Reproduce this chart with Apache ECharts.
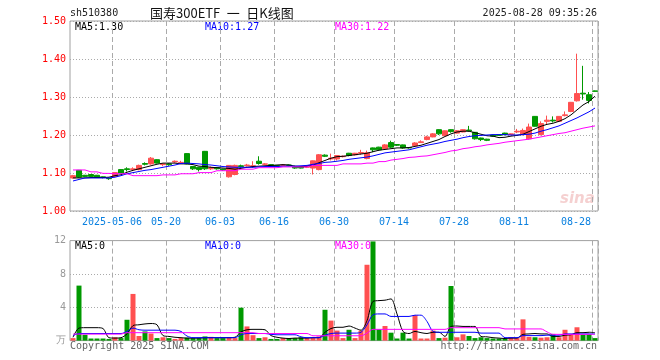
<!DOCTYPE html>
<html><head><meta charset="utf-8">
<script src="https://cdn.jsdelivr.net/npm/echarts@6/dist/echarts.min.js"></script>
<style>html,body{margin:0;padding:0;background:#fff}#c{width:660px;height:360px}</style>
</head><body><div id="c"></div>
<script>
const dates = ['2025-04-22','2025-04-23','2025-04-24','2025-04-25','2025-04-28','2025-04-29','2025-04-30','2025-05-06','2025-05-07','2025-05-08',
'2025-05-12','2025-05-13','2025-05-14','2025-05-15','2025-05-16','2025-05-19','2025-05-20','2025-05-21','2025-05-22','2025-05-23',
'2025-05-26','2025-05-27','2025-05-28','2025-05-29','2025-05-30','2025-06-03','2025-06-04','2025-06-05','2025-06-06','2025-06-09',
'2025-06-10','2025-06-11','2025-06-12','2025-06-13','2025-06-16','2025-06-17','2025-06-18','2025-06-19','2025-06-20','2025-06-23',
'2025-06-24','2025-06-25','2025-06-26','2025-06-27','2025-06-30','2025-07-01','2025-07-02','2025-07-03','2025-07-04','2025-07-07',
'2025-07-08','2025-07-09','2025-07-10','2025-07-11','2025-07-14','2025-07-15','2025-07-16','2025-07-17','2025-07-18','2025-07-21',
'2025-07-22','2025-07-23','2025-07-24','2025-07-25','2025-07-28','2025-07-29','2025-07-30','2025-07-31','2025-08-01','2025-08-04',
'2025-08-05','2025-08-06','2025-08-07','2025-08-08','2025-08-11','2025-08-12','2025-08-13','2025-08-14','2025-08-15','2025-08-18',
'2025-08-19','2025-08-20','2025-08-21','2025-08-22','2025-08-25','2025-08-26','2025-08-27','2025-08-28'];
const tickDates = ['2025-05-06','2025-05-20','2025-06-03','2025-06-16','2025-06-30','2025-07-14','2025-07-28','2025-08-11','2025-08-28'];
const openP = [1.087,1.107,1.094,1.096,1.094,1.090,1.086,1.091,1.109,1.111,
1.109,1.109,1.125,1.124,1.135,1.122,1.124,1.129,1.127,1.151,
1.117,1.115,1.157,1.111,1.114,1.110,1.090,1.096,1.119,1.119,
1.118,1.131,1.123,1.122,1.120,1.120,1.121,1.116,1.116,1.115,
1.113,1.109,1.147,1.137,1.137,1.143,1.152,1.148,1.152,1.138,
1.166,1.168,1.164,1.180,1.175,1.174,1.167,1.172,1.180,1.188,
1.195,1.214,1.198,1.214,1.205,1.208,1.213,1.207,1.192,1.189,
1.200,1.201,1.205,1.201,1.208,1.201,1.190,1.249,1.201,1.236,
1.239,1.236,1.251,1.262,1.290,1.310,1.306,1.316];
const closeP = [1.093,1.089,1.091,1.091,1.088,1.088,1.085,1.101,1.100,1.109,
1.111,1.120,1.123,1.139,1.126,1.124,1.122,1.131,1.128,1.124,
1.111,1.109,1.111,1.114,1.111,1.108,1.120,1.120,1.117,1.121,
1.119,1.125,1.124,1.118,1.118,1.121,1.120,1.113,1.113,1.119,
1.132,1.148,1.144,1.139,1.146,1.144,1.146,1.152,1.154,1.153,
1.161,1.161,1.174,1.168,1.173,1.166,1.166,1.179,1.182,1.195,
1.203,1.203,1.211,1.209,1.211,1.214,1.211,1.190,1.188,1.186,
1.197,1.199,1.201,1.203,1.210,1.212,1.221,1.223,1.230,1.239,
1.237,1.249,1.253,1.286,1.309,1.308,1.291,1.315];
const lowP = [1.085,1.087,1.089,1.090,1.087,1.086,1.082,1.089,1.099,1.104,
1.105,1.107,1.120,1.122,1.125,1.118,1.119,1.127,1.124,1.123,
1.108,1.104,1.108,1.108,1.109,1.106,1.088,1.094,1.114,1.117,
1.113,1.122,1.121,1.116,1.116,1.118,1.118,1.111,1.112,1.113,
1.096,1.107,1.142,1.133,1.133,1.141,1.144,1.146,1.148,1.136,
1.155,1.159,1.162,1.166,1.171,1.164,1.164,1.170,1.179,1.186,
1.194,1.200,1.197,1.206,1.204,1.207,1.209,1.188,1.184,1.184,
1.195,1.198,1.199,1.200,1.205,1.199,1.188,1.222,1.199,1.227,
1.233,1.234,1.249,1.260,1.288,1.293,1.283,1.314];
const highP = [1.095,1.108,1.095,1.097,1.095,1.091,1.088,1.102,1.110,1.115,
1.115,1.122,1.128,1.142,1.136,1.125,1.126,1.133,1.132,1.152,
1.118,1.116,1.158,1.117,1.115,1.111,1.121,1.122,1.122,1.124,
1.131,1.144,1.126,1.123,1.121,1.123,1.122,1.119,1.117,1.120,
1.133,1.150,1.149,1.151,1.147,1.146,1.153,1.153,1.161,1.159,
1.167,1.169,1.176,1.185,1.176,1.175,1.168,1.181,1.186,1.198,
1.205,1.215,1.212,1.215,1.213,1.215,1.224,1.208,1.193,1.190,
1.201,1.202,1.206,1.204,1.216,1.217,1.230,1.250,1.236,1.251,
1.249,1.250,1.262,1.287,1.414,1.382,1.313,1.317];
const ma5 = [1.087,1.087,1.087,1.088,1.088,1.088,1.089,1.093,1.0955,1.102,
1.107,1.111,1.115,1.119,1.123,1.126,1.126,1.126,1.124,1.124,
1.122,1.118,1.117,1.115,1.114,1.113,1.112,1.110,1.112,1.115,
1.117,1.118,1.119,1.120,1.121,1.122,1.121,1.118,1.117,1.118,
1.121,1.127,1.133,1.139,1.143,1.144,1.146,1.148,1.150,1.152,
1.156,1.160,1.162,1.164,1.166,1.166,1.167,1.170,1.173,1.178,
1.183,1.188,1.196,1.203,1.208,1.210,1.210,1.206,1.202,1.198,
1.197,1.193,1.194,1.197,1.199,1.202,1.209,1.216,1.223,1.228,
1.231,1.236,1.243,1.253,1.266,1.279,1.288,1.302];
const ma10 = [1.079,1.083,1.087,1.087,1.087,1.087,1.087,1.089,1.093,1.098,
1.101,1.104,1.107,1.109,1.112,1.115,1.118,1.121,1.125,1.126,
1.125,1.124,1.122,1.121,1.119,1.117,1.116,1.115,1.115,1.115,
1.115,1.116,1.117,1.117,1.117,1.118,1.118,1.118,1.119,1.120,
1.123,1.125,1.128,1.129,1.131,1.133,1.136,1.138,1.140,1.142,
1.145,1.149,1.153,1.155,1.157,1.159,1.161,1.165,1.169,1.173,
1.176,1.179,1.183,1.186,1.189,1.193,1.196,1.198,1.199,1.200,
1.201,1.201,1.201,1.200,1.200,1.201,1.202,1.205,1.210,1.214,
1.219,1.224,1.231,1.238,1.245,1.253,1.261,1.271];
const ma30 = [1.108,1.108,1.108,1.103,1.103,1.099,1.099,1.098,1.098,1.098,
1.093,1.093,1.093,1.093,1.093,1.095,1.095,1.095,1.098,1.098,
1.098,1.101,1.101,1.101,1.106,1.106,1.106,1.106,1.110,1.110,
1.110,1.114,1.114,1.114,1.114,1.116,1.116,1.116,1.116,1.116,
1.120,1.120,1.120,1.120,1.120,1.124,1.124,1.124,1.124,1.126,
1.126,1.130,1.130,1.134,1.136,1.138,1.141,1.142,1.144,1.145,
1.148,1.151,1.154,1.158,1.160,1.164,1.166,1.169,1.171,1.174,
1.176,1.178,1.181,1.183,1.185,1.187,1.189,1.192,1.195,1.198,
1.201,1.204,1.206,1.210,1.214,1.218,1.221,1.224];
const volume = [0.3,6.6,0.7,0.25,0.25,0.25,0.2,0.4,0.3,2.5,
5.6,0.55,1.1,0.85,0.3,0.4,0.3,0.2,0.3,0.35,
0.3,0.3,0.5,0.45,0.3,0.3,0.35,0.3,3.95,1.7,
0.65,0.3,0.4,0.2,0.2,0.3,0.3,0.3,0.4,0.3,
0.35,0.5,3.7,2.4,1.2,0.3,1.3,0.3,1.2,9.1,
11.9,1.35,1.75,0.95,0.25,0.95,0.25,3.05,0.25,0.25,
1.2,0.3,0.35,6.55,0.4,0.75,0.55,0.3,0.4,0.3,
0.25,0.25,0.25,0.4,0.3,2.55,0.45,0.4,0.35,0.4,
0.8,0.4,1.3,0.7,1.6,0.7,0.75,0.3];
const vma5 = [0.4,1.5,1.55,1.55,1.55,1.45,0.35,0.3,0.35,0.8,
1.8,1.9,2.0,2.05,1.9,0.6,0.5,0.4,0.35,0.3,
0.3,0.3,0.35,0.35,0.35,0.35,0.35,0.4,1.05,1.3,
1.35,1.35,1.3,0.6,0.4,0.3,0.25,0.3,0.3,0.3,
0.35,0.35,1.0,1.45,1.6,1.6,1.75,1.5,1.25,2.4,
4.7,4.8,4.85,5.0,3.2,1.1,0.85,1.1,0.95,0.85,
1.0,1.0,0.5,1.7,1.75,1.7,1.7,1.7,0.5,0.45,
0.35,0.3,0.25,0.3,0.3,0.75,0.8,0.85,0.8,0.8,
0.5,0.5,0.65,0.7,0.95,0.95,1.0,0.95];
const vma10 = [0.6,0.85,0.85,0.85,0.85,0.85,0.85,0.85,0.85,1.1,
1.5,1.3,1.25,1.25,1.25,1.25,1.25,1.25,1.1,0.55,
0.35,0.35,0.35,0.35,0.35,0.35,0.35,0.35,0.7,0.85,
0.85,0.85,0.85,0.75,0.7,0.7,0.7,0.7,0.45,0.35,
0.35,0.35,0.65,0.85,0.9,0.9,0.9,0.9,1.0,1.9,
3.1,3.2,3.2,2.9,2.9,2.9,2.9,3.05,3.05,2.3,
1.1,1.0,1.0,1.0,1.0,1.0,1.0,1.0,0.9,0.9,
0.9,0.9,0.35,0.35,0.35,0.6,0.6,0.6,0.6,0.65,
0.65,0.65,0.8,0.8,0.8,0.8,0.8,0.8];
const vma30 = [0.78,0.78,0.78,0.78,0.78,0.78,0.78,0.78,0.78,0.95,
0.95,0.95,0.95,0.95,0.95,0.95,0.95,0.95,0.95,0.95,
0.95,0.95,0.95,0.95,0.95,0.95,0.95,0.95,0.95,0.95,
0.95,0.85,0.85,0.85,0.85,0.85,0.85,0.85,0.85,0.85,
0.58,0.58,0.58,0.58,0.58,0.58,0.58,0.58,0.58,0.9,
1.35,1.35,1.35,1.35,1.35,1.35,1.35,1.35,1.35,1.35,
1.35,1.35,1.35,1.55,1.55,1.55,1.55,1.55,1.55,1.55,
1.55,1.55,1.4,1.4,1.4,1.4,1.4,1.4,1.4,1.05,
0.75,0.75,0.75,0.75,0.75,0.75,0.75,0.75];
const priceTicks = [1.0, 1.5, 0.1];
const volTicks = [0, 12, 4];

const UP = '#ff5050', DOWN = '#009900';
const MONO = '"DejaVu Sans Mono", "Liberation Mono", monospace';
const tickSet = new Set(tickDates);
const lastTick = tickDates[tickDates.length - 1];
const chart = echarts.init(document.getElementById('c'), null, {renderer: 'canvas'});
const gridStyle = {show: true, borderColor: '#a0a0a0', borderWidth: 1, backgroundColor: 'transparent'};
const xBase = {
  type: 'category', data: dates, boundaryGap: true,
  axisLine: {show: false}, axisTick: {show: false, interval: (i, v) => tickSet.has(v)},
  splitLine: {show: true, interval: (i, v) => tickSet.has(v), lineStyle: {color: '#aaaaaa', type: [5, 3], width: 1}}
};
function txt(text, x, y, color, font, align) {
  return {type: 'text', x: x, y: y, silent: true,
    style: {text: text, fill: color, font: font || ('10px ' + MONO), align: align || 'left', verticalAlign: 'middle'}};
}
const option = {
  animation: false,
  grid: [
    Object.assign({left: 70, top: 21, width: 528, height: 190}, gridStyle),
    Object.assign({left: 70, top: 240.6, width: 528, height: 100}, gridStyle)
  ],
  xAxis: [
    Object.assign({}, xBase, {gridIndex: 0,
      axisLabel: {show: true, interval: (i, v) => tickSet.has(v), margin: 6,
        color: '#0a80e0', fontFamily: MONO, fontSize: 10,
        formatter: v => v === tickDates[0] ? '{a|' + v + '}' : (v === lastTick ? '{z|' + v.slice(5) + '}' : '{a|' + v.slice(5) + '}'),
        rich: {a: {padding: [0, 6, 0, 0], color: '#0a80e0', fontFamily: MONO, fontSize: 10},
               z: {padding: [0, 38, 0, 0], color: '#0a80e0', fontFamily: MONO, fontSize: 10}}}}),
    Object.assign({}, xBase, {gridIndex: 1, axisLabel: {show: false}})
  ],
  yAxis: [
    {type: 'value', gridIndex: 0, min: priceTicks[0], max: priceTicks[1], interval: priceTicks[2], scale: true,
     axisLine: {show: false}, axisTick: {show: false},
     axisLabel: {color: '#ff0000', fontFamily: MONO, fontSize: 10, margin: 4, formatter: v => v.toFixed(2)},
     splitLine: {show: true, lineStyle: {color: '#aaaaaa', type: [1, 2], width: 1}}},
    {type: 'value', gridIndex: 1, min: volTicks[0], max: volTicks[1], interval: volTicks[2],
     axisLine: {show: false}, axisTick: {show: false},
     axisLabel: {color: '#999999', fontFamily: MONO, fontSize: 10, margin: 4, formatter: v => v === 0 ? '万' : String(v)},
     splitLine: {show: true, lineStyle: {color: '#aaaaaa', type: [1, 2], width: 1}}}
  ],
  series: [
    {type: 'candlestick', xAxisIndex: 0, yAxisIndex: 0, barWidth: 5,
     data: dates.map((d, i) => [openP[i], closeP[i], lowP[i], highP[i]]),
     itemStyle: {color: UP, color0: DOWN, borderColor: UP, borderColor0: DOWN, borderWidth: 1}},
    {type: 'line', xAxisIndex: 0, yAxisIndex: 0, data: ma5, symbol: 'none', lineStyle: {color: '#000000', width: 1}, z: 5},
    {type: 'line', xAxisIndex: 0, yAxisIndex: 0, data: ma10, symbol: 'none', lineStyle: {color: '#0000ff', width: 1}, z: 5},
    {type: 'line', xAxisIndex: 0, yAxisIndex: 0, data: ma30, symbol: 'none', lineStyle: {color: '#ff00ff', width: 1}, z: 5},
    {type: 'bar', xAxisIndex: 1, yAxisIndex: 1, barWidth: 5,
     data: volume.map((v, i) => ({value: v, itemStyle: {color: closeP[i] >= openP[i] ? UP : DOWN}}))},
    {type: 'line', xAxisIndex: 1, yAxisIndex: 1, data: vma5, symbol: 'none', smooth: 0.3, lineStyle: {color: '#000000', width: 1}, z: 5},
    {type: 'line', xAxisIndex: 1, yAxisIndex: 1, data: vma10, symbol: 'none', smooth: 0.3, lineStyle: {color: '#0000ff', width: 1}, z: 5},
    {type: 'line', xAxisIndex: 1, yAxisIndex: 1, data: vma30, symbol: 'none', smooth: 0.3, lineStyle: {color: '#ff00ff', width: 1}, z: 5}
  ],
  graphic: [
    txt('sh510380', 70, 13, '#222'),
    txt('国寿300ETF\u2002一\u2002日K线图', 150, 13, '#111', '13px "Noto Sans CJK SC", sans-serif'),
    txt('2025-08-28 09:35:26', 597, 13, '#222', null, 'right'),
    txt('MA5:1.30', 75, 27, '#000000'),
    txt('MA10:1.27', 205, 27, '#0000ff'),
    txt('MA30:1.22', 335, 27, '#ff00ff'),
    txt('MA5:0', 75, 246, '#000000'),
    txt('MA10:0', 205, 246, '#0000ff'),
    txt('MA30:0', 335, 246, '#ff00ff'),
    txt('Copyright 2025 SINA.COM', 70, 346, '#666666'),
    txt('http://finance.sina.com.cn', 597, 346, '#666666', null, 'right'),
    txt('sina', 560, 199, 'rgba(225,120,120,0.35)', 'italic bold 15px "DejaVu Sans", sans-serif')
  ]
};
chart.setOption(option);
</script></body></html>
